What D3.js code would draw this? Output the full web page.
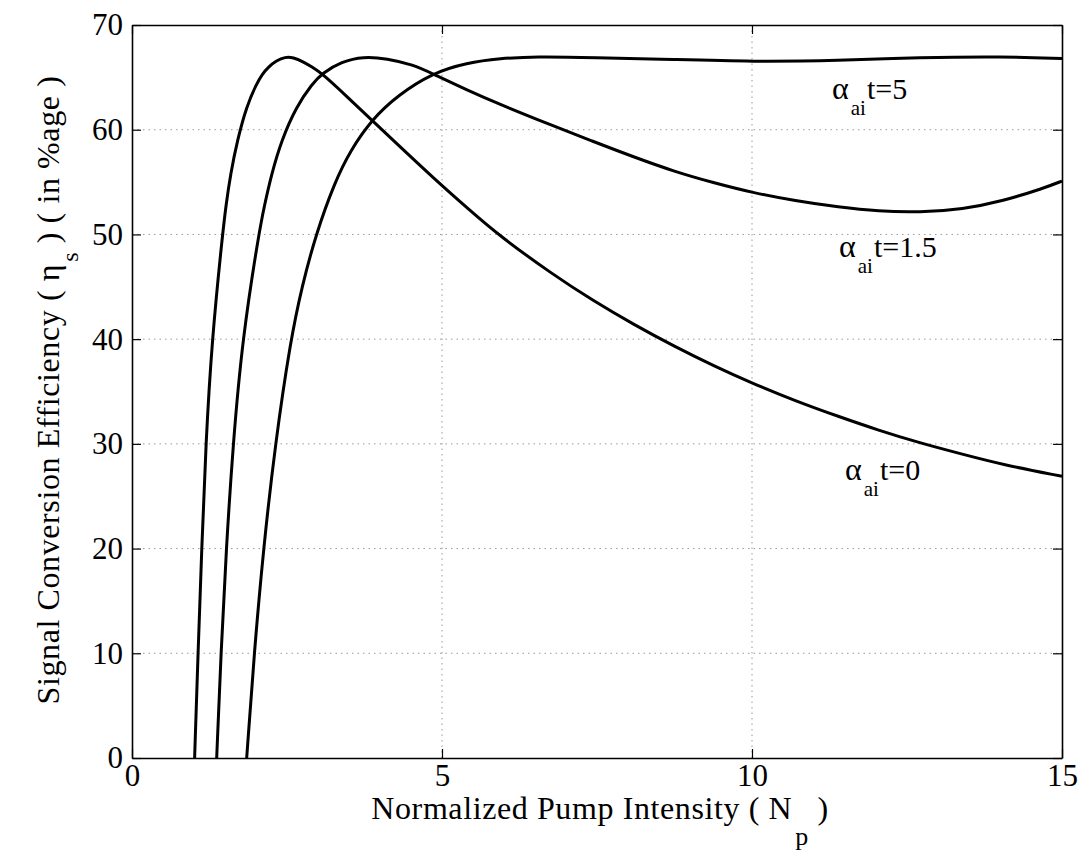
<!DOCTYPE html>
<html>
<head>
<meta charset="utf-8">
<script src="https://cdn.jsdelivr.net/npm/d3@7"></script>
<style>
  body { margin: 0; background: #fff; }
  text { font-family: "Liberation Serif", "DejaVu Serif", serif; fill: #000; }
</style>
</head>
<body>
<script>
// curve for alpha_ai t = 0
const x_a0 = [1.01, 1.065, 1.125, 1.19, 1.29, 1.46, 1.514, 1.59, 1.70, 1.845, 2.01, 2.1, 2.2, 2.33, 2.47, 2.6, 2.76, 2.9, 3.06, 3.46, 3.87, 4.32, 4.86, 5.45, 5.92, 6.78, 7.43, 8.09, 8.75, 9.4, 10, 10.7, 11.4, 12.04, 12.7, 13.4, 14.05, 15];
const y_a0 = [0, 10, 20, 30, 40, 50, 52.7, 55.8, 59.0, 62.2, 64.4, 65.3, 66.0, 66.6, 66.95, 66.9, 66.5, 66.0, 65.4, 63.2, 60.9, 58.4, 55.4, 52.3, 49.9, 46.2, 43.7, 41.4, 39.3, 37.4, 35.8, 34.1, 32.6, 31.3, 30.1, 29.0, 28.0, 26.9];
// alpha_ai t = 1.5
const x_a15 = [1.366, 1.435, 1.52, 1.63, 1.78, 2.043, 2.133, 2.252, 2.412, 2.649, 2.908, 3.07, 3.38, 3.73, 4.11, 4.54, 4.83, 5.40, 5.94, 6.78, 7.43, 8.09, 8.75, 9.4, 10, 10.7, 11.4, 12.04, 12.7, 13.4, 14.05, 14.7, 15];
const y_a15 = [0, 10, 20, 30, 40, 50, 52.7, 55.8, 59.0, 62.2, 64.4, 65.4, 66.5, 67.0, 66.8, 66.2, 65.4, 63.8, 62.4, 60.4, 58.9, 57.4, 56.0, 54.9, 54.0, 53.2, 52.6, 52.2, 52.1, 52.4, 53.2, 54.4, 55.1];
// alpha_ai t = 5
const x_a5 = [1.85, 1.97, 2.12, 2.31, 2.56, 2.74, 2.965, 3.27, 3.52, 3.87, 4.29, 4.84, 5.40, 5.94, 6.5, 7.43, 8.75, 10, 11.4, 12.7, 14.05, 15];
const y_a5 = [0, 10, 20, 30, 40, 45, 50, 55, 58, 61, 63.3, 65.4, 66.4, 66.8, 67.0, 66.9, 66.7, 66.5, 66.6, 66.9, 67.0, 66.8];

const xTicks = [0, 5, 10, 15];
const yTicks = [0, 10, 20, 30, 40, 50, 60, 70];

const w = 1091, h = 857;
const pLeft = 132, pRight = 1062, pTop = 25, pBottom = 758;

const svg = d3.select("body").append("svg")
  .attr("width", w)
  .attr("height", h);

const xScale = d3.scaleLinear().domain([0, 15]).range([pLeft, pRight]);
const yScale = d3.scaleLinear().domain([0, 70]).range([pBottom, pTop]);

// dotted grid
svg.append("g").selectAll("line")
  .data(xTicks.slice(1, -1))
  .enter().append("line")
  .attr("x1", d => xScale(d)).attr("x2", d => xScale(d))
  .attr("y1", pTop).attr("y2", pBottom)
  .attr("stroke", "#9a9a9a").attr("stroke-width", 1)
  .attr("stroke-dasharray", "1.5,4");
svg.append("g").selectAll("line")
  .data(yTicks.slice(1, -1))
  .enter().append("line")
  .attr("x1", pLeft).attr("x2", pRight)
  .attr("y1", d => yScale(d)).attr("y2", d => yScale(d))
  .attr("stroke", "#9a9a9a").attr("stroke-width", 1)
  .attr("stroke-dasharray", "1.5,4");

// axes (matlab style, ticks inside, box)
const tk = 9;
const xAxis = d3.axisBottom(xScale).tickValues(xTicks).tickSizeInner(-tk).tickSizeOuter(0).tickPadding(6);
const yAxis = d3.axisLeft(yScale).tickValues(yTicks).tickSizeInner(-tk).tickSizeOuter(0).tickPadding(9);

const gx = svg.append("g")
  .attr("transform", `translate(0, ${pBottom})`)
  .call(xAxis);
const gy = svg.append("g")
  .attr("transform", `translate(${pLeft}, 0)`)
  .call(yAxis);

svg.append("g")
  .attr("transform", `translate(0, ${pTop})`)
  .call(d3.axisTop(xScale).tickValues(xTicks).tickSizeInner(-tk).tickSizeOuter(0).tickFormat(""));
svg.append("g")
  .attr("transform", `translate(${pRight}, 0)`)
  .call(d3.axisRight(yScale).tickValues(yTicks).tickSizeInner(-tk).tickSizeOuter(0).tickFormat(""));

svg.selectAll(".domain").attr("stroke", "#000").attr("stroke-width", 1.6);
svg.selectAll(".tick line").attr("stroke", "#000").attr("stroke-width", 1.2);
svg.selectAll(".tick text")
  .style("font-family", "'Liberation Serif', serif")
  .style("font-size", "31px")
  .attr("fill", "#000");

// curves
const line = d3.line()
  .x(d => xScale(d[0]))
  .y(d => yScale(d[1]))
  .curve(d3.curveBasis);

[[x_a0, y_a0], [x_a15, y_a15], [x_a5, y_a5]].forEach(([xs, ys]) => {
  svg.append("path")
    .datum(xs.map((v, i) => [v, ys[i]]))
    .attr("d", line)
    .attr("fill", "none")
    .attr("stroke", "#000")
    .attr("stroke-width", 3)
    .attr("stroke-linejoin", "round");
});

// curve labels
const labels = [
  {x: 832, y: 99, t: "5"},
  {x: 839, y: 257, t: "1.5"},
  {x: 845, y: 480, t: "0"}
];
labels.forEach(l => {
  const t = svg.append("text")
    .attr("x", l.x).attr("y", l.y)
    .style("font-size", "30px");
  t.append("tspan").style("font-size", "32px").text("α");
  t.append("tspan").attr("dx", 2).attr("dy", 16).style("font-size", "21px").text("ai");
  t.append("tspan").attr("dx", 1).attr("dy", -16).text("t=" + l.t);
});

// axis titles
const xt = svg.append("text")
  .attr("x", 600).attr("y", 819)
  .attr("text-anchor", "middle")
  .style("font-size", "32px")
  .style("letter-spacing", "0.6px");
xt.append("tspan").text("Normalized Pump Intensity ( N");
xt.append("tspan").attr("dx", 3).attr("dy", 26).style("font-size", "26px").text("p");
xt.append("tspan").attr("dy", -26).text("  )");

const yt = svg.append("text")
  .attr("transform", `translate(59, 390) rotate(-90)`)
  .attr("text-anchor", "middle")
  .style("font-size", "32px")
  .style("letter-spacing", "0.6px");
yt.append("tspan").text("Signal Conversion Efficiency ( η");
yt.append("tspan").attr("dx", 2).attr("dy", 19).style("font-size", "24px").text("s");
yt.append("tspan").attr("dy", -19).text(" ) ( in %age )");
</script>
</body>
</html>
